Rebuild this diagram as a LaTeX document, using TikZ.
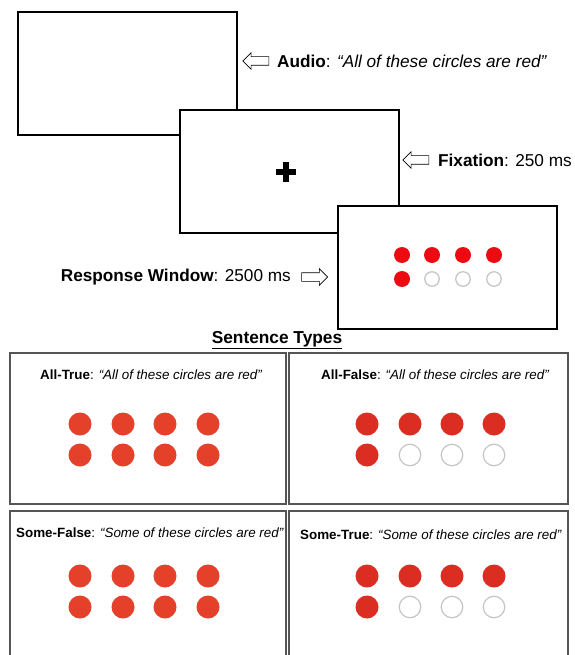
\documentclass[tikz,border=0pt]{standalone}
\usepackage{fontspec}
\setmainfont{Liberation Sans}
\usetikzlibrary{shapes.arrows}

\definecolor{dotorange}{HTML}{E4402A}
\definecolor{dotred}{HTML}{DB2D22}
\definecolor{dotbright}{HTML}{EE0A12}
\definecolor{ringgray}{HTML}{C4C4C4}
\definecolor{panelgray}{HTML}{555555}

\begin{document}
\begin{tikzpicture}[x=1pt,y=-1pt,
  screen/.style={draw=black, line width=1.3pt, fill=white,
    minimum width=219pt, minimum height=123pt, inner sep=0pt},
  panel/.style={draw=panelgray, line width=1.6pt, fill=white},
  cue/.style={single arrow, draw=black, line width=0.6pt, fill=white,
    minimum height=26pt, inner xsep=0pt, inner ysep=4pt,
    single arrow head extend=4pt},
  lbl/.style={font=\fontsize{17.2}{19}\selectfont, inner sep=0pt},
  plbl/.style={font=\fontsize{13.4}{15}\selectfont, inner sep=0pt},
  bigdot/.style={circle, inner sep=0pt, minimum size=23pt},
  smalldot/.style={circle, inner sep=0pt, minimum size=16pt},
  fulldot/.style={fill=#1},
  ring/.style={draw=ringgray, line width=1.2pt, fill=white},
]
\useasboundingbox (0,0) rectangle (574,655);
\clip (0,0) rectangle (574,655);

% --- trial sequence: three overlapping screens ---
\node[screen] (audio) at (127.5,73.5) {};
\node[screen] (fix) at (289.5,171.5) {};
\node[screen] (resp) at (447.5,267.5) {};

% fixation cross
\coordinate (cross) at (286,172);
\draw[line width=5.5pt] ([xshift=-10pt]cross) -- ([xshift=10pt]cross);
\draw[line width=5.5pt] ([yshift=-10pt]cross) -- ([yshift=10pt]cross);

% response-window display
\foreach \x [count=\i] in {402,432,463,494}{
  \node[smalldot, fulldot=dotbright] (r1-\i) at (\x,255) {};
}
\node[smalldot, fulldot=dotbright] (r2-1) at (402,279) {};
\foreach \x [count=\i from 2] in {432,463,494}{
  \node[smalldot, ring, minimum size=14.5pt] (r2-\i) at (\x,279) {};
}

% cue arrows and captions
\node[cue, shape border rotate=180] (audioarrow) at (258,61) {};
\node[lbl, anchor=west] (audiotext) at (277,61)
  {\textbf{Audio}: \textit{“All of these circles are red”}};

\node[cue, shape border rotate=180] (fixarrow) at (418,160) {};
\node[lbl, anchor=west] (fixtext) at (438,160) {\textbf{Fixation}: 250 ms};

\node[cue] (resparrow) at (312.5,277) {};
\node[lbl, anchor=east] (resptext) at (291,277)
  {\textbf{Response Window}: 2500 ms};

% --- sentence types ---
\node[lbl, font=\fontsize{17.3}{19}\selectfont\bfseries] (title) at (277,340)
  {\underline{Sentence Types}};

\draw[panel] (10,353) rectangle (286,504);
\draw[panel] (289,353) rectangle (568,504);
\draw[panel] (10,511) rectangle (286,700);
\draw[panel] (289,511) rectangle (568,700);

\node[plbl, anchor=west] (tlabel1) at (40,375)
  {\textbf{All-True}: \textit{“All of these circles are red”}};
\node[plbl, anchor=west] (tlabel2) at (321,375)
  {\textbf{All-False}: \textit{“All of these circles are red”}};
\node[plbl, anchor=west] (tlabel3) at (16,533)
  {\textbf{Some-False}: \textit{“Some of these circles are red”}};
\node[plbl, anchor=west] (tlabel4) at (300,535)
  {\textbf{Some-True}: \textit{“Some of these circles are red”}};

% all-true and some-false: eight red circles
\foreach \y/\p in {424/a,455/b,576/c,607/d}{
  \foreach \x [count=\i] in {80,123,165,208}{
    \node[bigdot, fulldot=dotorange] (\p-\i) at (\x,\y) {};
  }
}
% all-false and some-true: five red, three empty
\foreach \y/\p in {424/e,576/g}{
  \foreach \x [count=\i] in {367,410,452,494}{
    \node[bigdot, fulldot=dotred] (\p-\i) at (\x,\y) {};
  }
}
\foreach \y/\p in {455/f,607/h}{
  \node[bigdot, fulldot=dotred] (\p-1) at (367,\y) {};
  \foreach \x [count=\i from 2] in {410,452,494}{
    \node[bigdot, ring, minimum size=21.5pt] (\p-\i) at (\x,\y) {};
  }
}
\end{tikzpicture}
\end{document}
